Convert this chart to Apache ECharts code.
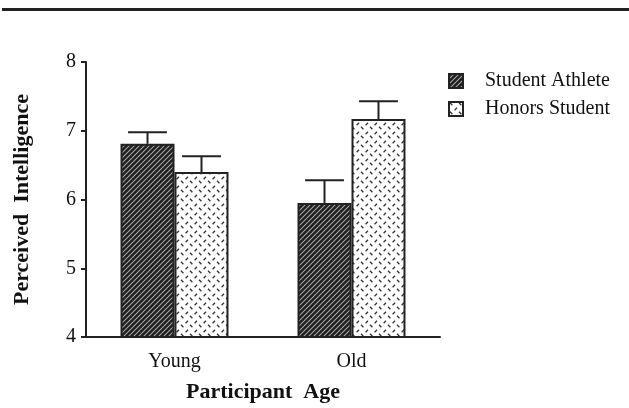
<!DOCTYPE html>
<html><head><meta charset="utf-8">
<script src="https://cdn.jsdelivr.net/npm/echarts@6/dist/echarts.min.js"></script>
<style>html,body{margin:0;padding:0;background:#fff}#c{width:629px;height:408px}</style>
</head><body><div id="c"></div>
<script>
var categories = ['Young', 'Old'];
var athleteMeans = [6.81, 5.95];
var athleteErrTop = [6.98, 6.28];
var honorsMeans = [6.40, 7.17];
var honorsErrTop = [6.63, 7.43];
var yTicks = [4, 5, 6, 7, 8];

function hatch() {
  var c = document.createElement('canvas'); c.width = 5; c.height = 5;
  var g = c.getContext('2d');
  g.fillStyle = '#1e1e1e'; g.fillRect(0, 0, 5, 5);
  g.strokeStyle = '#a8a8a8'; g.lineWidth = 1.1;
  g.beginPath(); g.moveTo(-1, 6); g.lineTo(6, -1); g.stroke();
  g.beginPath(); g.moveTo(-1, 1); g.lineTo(1, -1); g.stroke();
  g.beginPath(); g.moveTo(4, 6); g.lineTo(6, 4); g.stroke();
  return c;
}
function dashes() {
  var c = document.createElement('canvas'); c.width = 9; c.height = 9;
  var g = c.getContext('2d');
  g.fillStyle = '#ffffff'; g.fillRect(0, 0, 9, 9);
  g.strokeStyle = '#333'; g.lineWidth = 1.3;
  g.beginPath(); g.moveTo(1, 0.8); g.lineTo(3.4, 3.2); g.stroke();
  g.beginPath(); g.moveTo(5.6, 8.2); g.lineTo(8, 5.8); g.stroke();
  return c;
}
var fontFam = '"Liberation Serif", "DejaVu Serif", serif';
var chart = echarts.init(document.getElementById('c'));
function errSeries(name, tops, means, side) {
  return {
    type: 'custom', name: name + ' err', z: 1,
    data: tops.map(function (t, i) { return [i, means[i], t]; }),
    renderItem: function (params, api) {
      var band = api.size([1, 0])[0];
      var bw = band * 0.305;
      var c0 = api.coord([api.value(0), api.value(1)]);
      var c1 = api.coord([api.value(0), api.value(2)]);
      var x = c0[0] + side * bw / 2;
      var cap = bw * 0.36;
      var st = { stroke: '#222', lineWidth: 2 };
      return { type: 'group', children: [
        { type: 'line', shape: { x1: x, y1: c0[1], x2: x, y2: c1[1] }, style: st },
        { type: 'line', shape: { x1: x - cap, y1: c1[1], x2: x + cap, y2: c1[1] }, style: st }
      ]};
    }
  };
}
chart.setOption({
  animation: false,
  graphic: [{ type: 'rect', shape: { x: 2, y: 8, width: 627, height: 3 }, style: { fill: '#222' } }],
  grid: { left: 86, right: 189, top: 62, bottom: 71 },
  legend: {
    data: ['Student Athlete', 'Honors Student'], orient: 'vertical', left: 443, top: 66,
    icon: 'rect', itemWidth: 14, itemHeight: 14, itemGap: 8,
    textStyle: { fontFamily: fontFam, fontSize: 20, color: '#111', padding: [0, 0, 0, 17] }
  },
  xAxis: {
    type: 'category', data: categories,
    axisLine: { lineStyle: { color: '#222', width: 2 } },
    axisTick: { show: false },
    axisLabel: { fontFamily: fontFam, fontSize: 20, color: '#111', margin: 15 },
    name: 'Participant  Age', nameLocation: 'middle', nameGap: 44,
    nameTextStyle: { fontFamily: fontFam, fontSize: 22, fontWeight: 'bold', color: '#111' }
  },
  yAxis: {
    type: 'value', min: 4, max: 8, interval: 1,
    axisLine: { show: true, lineStyle: { color: '#222', width: 2 } },
    axisTick: { show: true, length: 5, lineStyle: { color: '#222', width: 2 } },
    splitLine: { show: false },
    axisLabel: { fontFamily: fontFam, fontSize: 20, color: '#111', margin: 10,
      formatter: function (v) { return yTicks.indexOf(v) >= 0 ? String(v) : ''; } },
    name: 'Perceived  Intelligence', nameLocation: 'middle', nameGap: 53,
    nameTextStyle: { fontFamily: fontFam, fontSize: 22, fontWeight: 'bold', color: '#111' }
  },
  series: [
    { type: 'bar', name: 'Student Athlete', data: athleteMeans, barWidth: '30.5%', barGap: '0%', z: 2,
      itemStyle: { color: { image: hatch(), repeat: 'repeat' }, borderColor: '#222', borderWidth: 2 } },
    { type: 'bar', name: 'Honors Student', data: honorsMeans, barWidth: '30.5%', barGap: '0%', z: 2,
      itemStyle: { color: { image: dashes(), repeat: 'repeat' }, borderColor: '#222', borderWidth: 2 } },
    errSeries('Student Athlete', athleteErrTop, athleteMeans, -1),
    errSeries('Honors Student', honorsErrTop, honorsMeans, 1)
  ]
});
</script></body></html>
